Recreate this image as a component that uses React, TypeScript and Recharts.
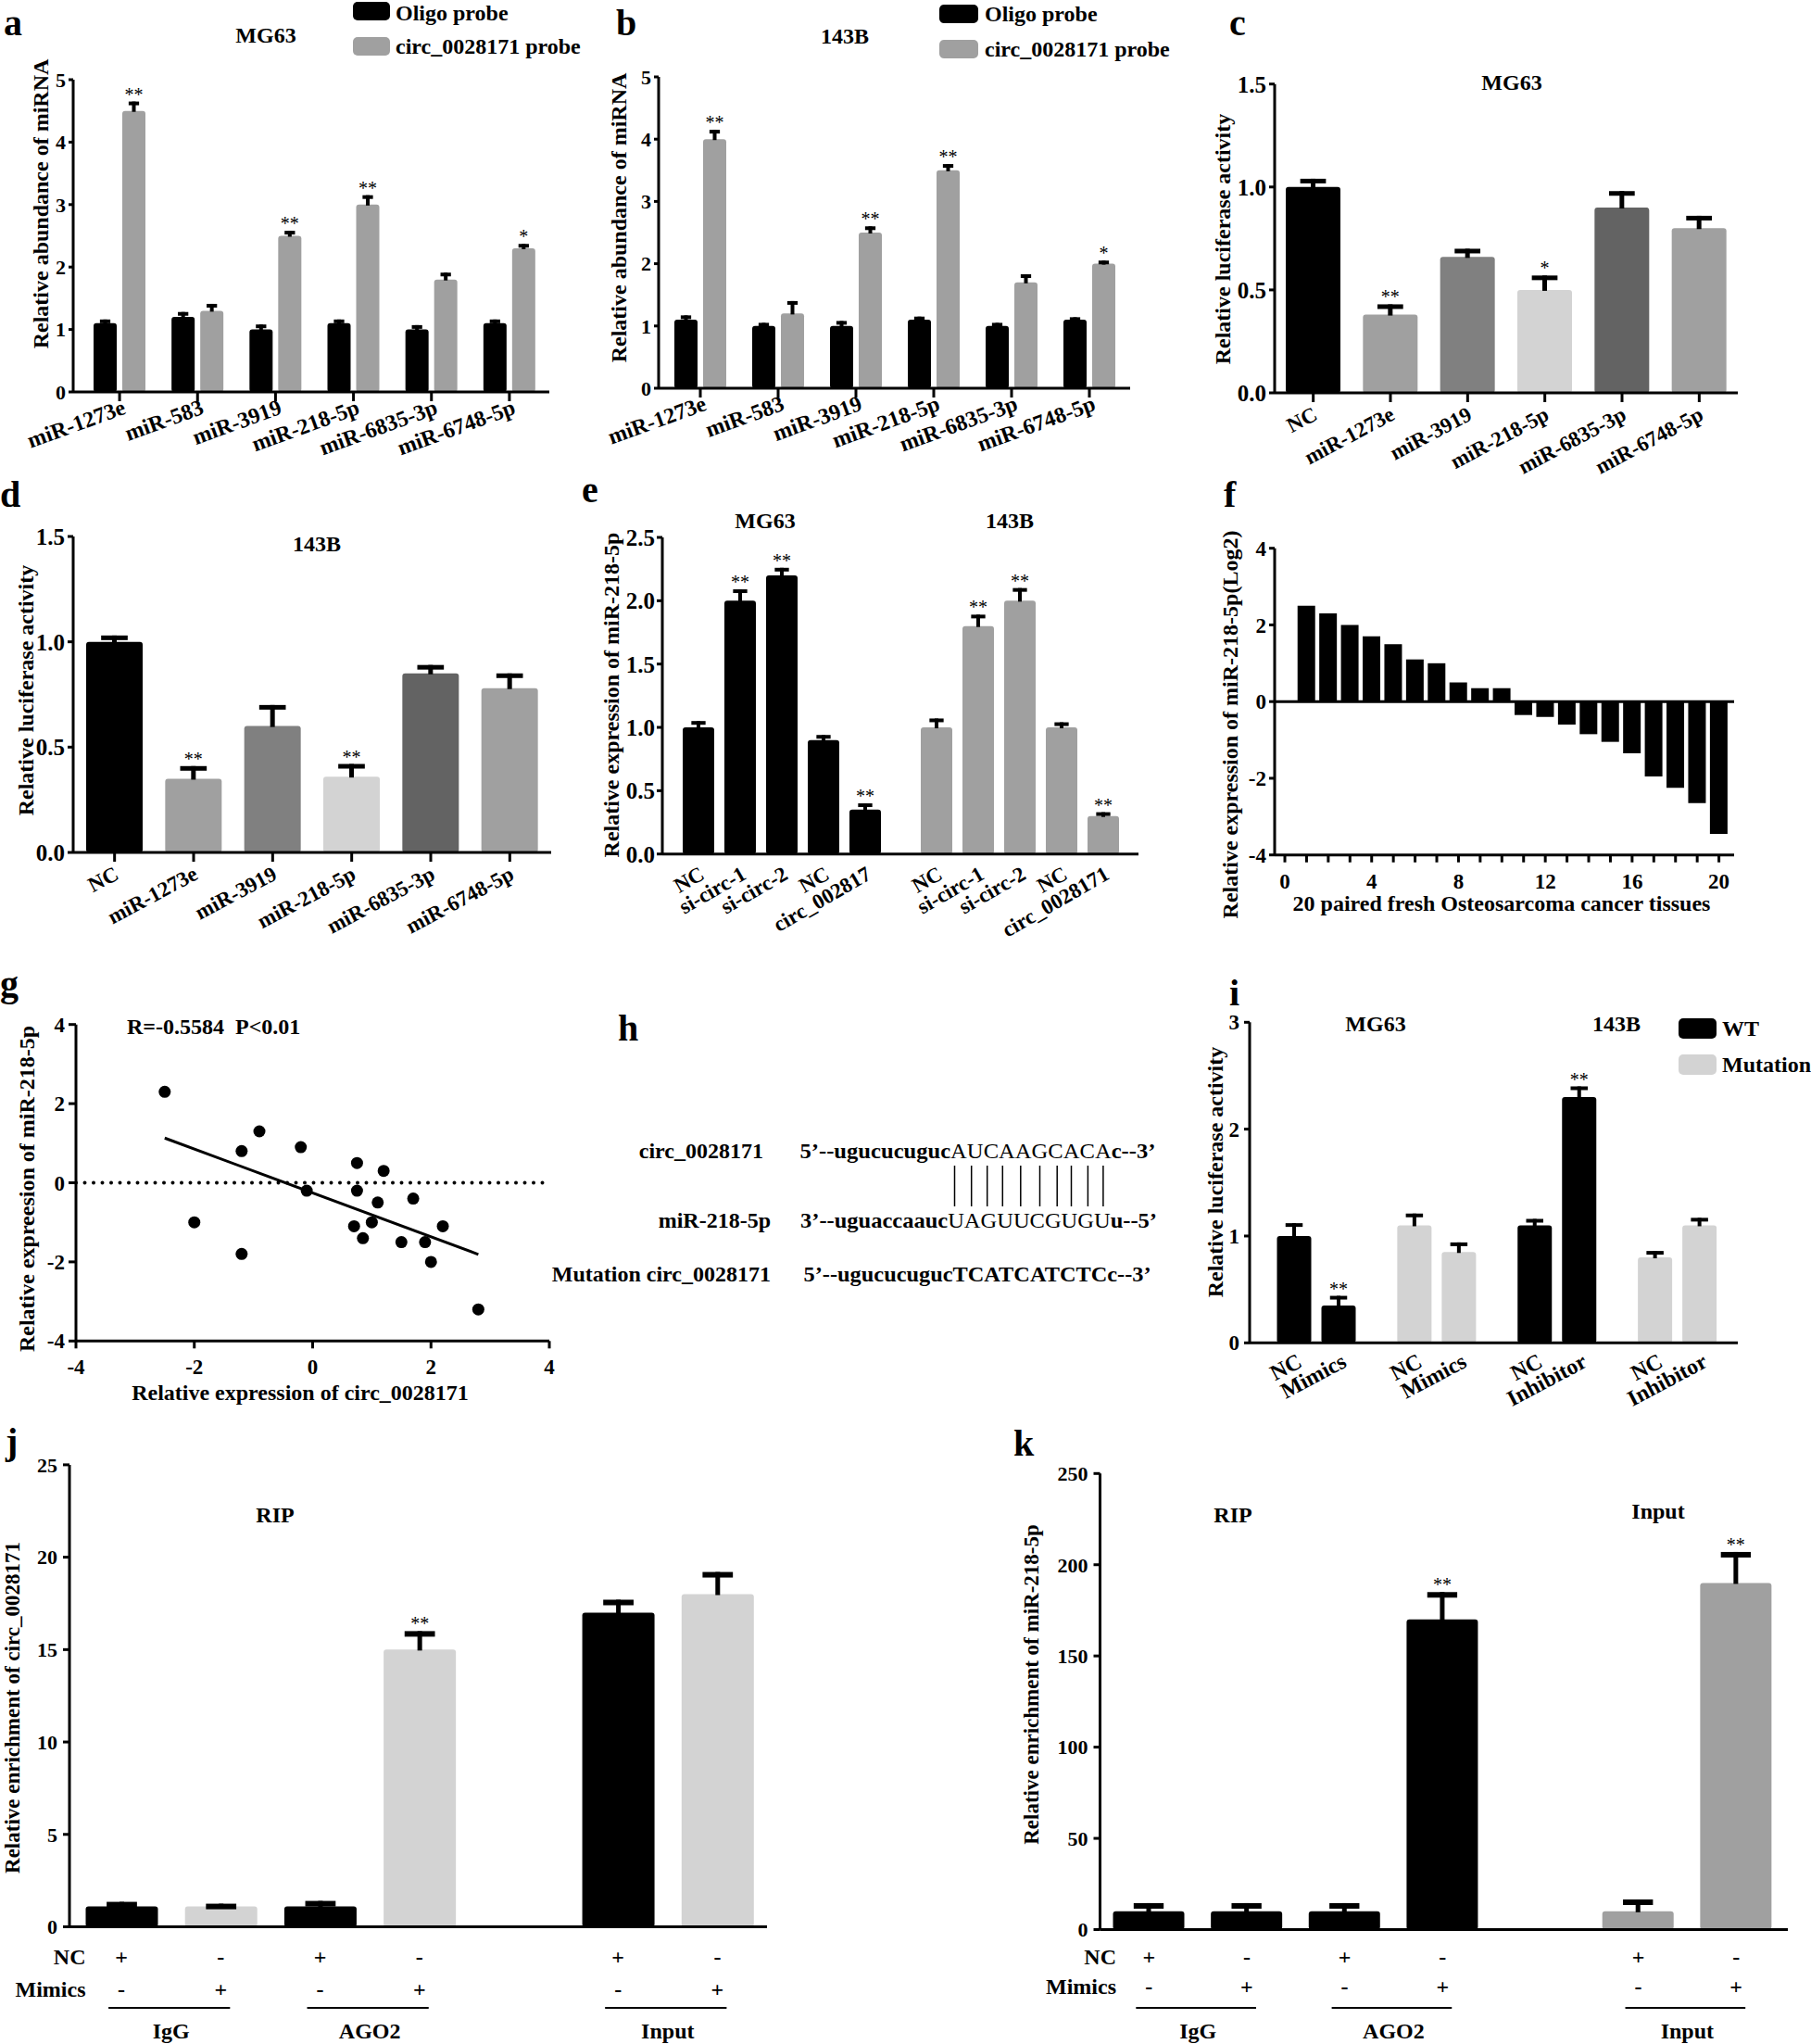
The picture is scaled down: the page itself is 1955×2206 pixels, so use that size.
import React from 'react';
import { BarChart, Bar, XAxis, YAxis, ComposedChart, Scatter, ReferenceLine } from 'recharts';

const FONT = '"Liberation Serif", "Times New Roman", Times, serif';
const BLACK = '#000000';
const GRAY = '#a0a0a0';
const LIGHT = '#d3d3d3';
const MID = '#808080';
const DARK = '#636363';

// ---------------- data ----------------
// panels a / b
const miRNAs = ['miR-1273e', 'miR-583', 'miR-3919', 'miR-218-5p', 'miR-6835-3p', 'miR-6748-5p'];
const abTicks = [0, 1, 2, 3, 4, 5];
const aOligo = [1.1, 1.2, 1.0, 1.1, 1.0, 1.1];
const aOligoErr = [0.06, 0.08, 0.08, 0.06, 0.07, 0.06];
const aCirc = [4.5, 1.3, 2.5, 3.0, 1.8, 2.3];
const aCircErr = [0.15, 0.11, 0.08, 0.15, 0.11, 0.07];
const aSig = ['**', '', '**', '**', '', '*'];
const bOligo = [1.1, 1.0, 1.0, 1.1, 1.0, 1.1];
const bOligoErr = [0.07, 0.05, 0.08, 0.05, 0.05, 0.04];
const bCirc = [4.0, 1.2, 2.5, 3.5, 1.7, 2.0];
const bCircErr = [0.15, 0.2, 0.1, 0.1, 0.13, 0.05];
const bSig = ['**', '', '**', '**', '', '*'];

// panels c / d
const lucCategories = ['NC', 'miR-1273e', 'miR-3919', 'miR-218-5p', 'miR-6835-3p', 'miR-6748-5p'];
const lucTicks = [0, 0.5, 1.0, 1.5];
const cValues = [1.0, 0.38, 0.66, 0.5, 0.9, 0.8];
const cErr = [0.04, 0.05, 0.04, 0.07, 0.08, 0.06];
const cSig = ['', '**', '', '*', '', ''];
const dValues = [1.0, 0.35, 0.6, 0.36, 0.85, 0.78];
const dErr = [0.03, 0.06, 0.1, 0.06, 0.04, 0.07];
const dSig = ['', '**', '', '**', '', ''];

// panel e
const eGroups = ['MG63', '143B'];
const eLabelsMG63 = ['NC', 'si-circ-1', 'si-circ-2', 'NC', 'circ_002817'];
const eLabels143B = ['NC', 'si-circ-1', 'si-circ-2', 'NC', 'circ_0028171'];
const eMG63 = [1.0, 2.0, 2.2, 0.9, 0.35];
const eMG63Err = [0.05, 0.09, 0.06, 0.04, 0.05];
const e143B = [1.0, 1.8, 2.0, 1.0, 0.3];
const e143BErr = [0.07, 0.09, 0.1, 0.04, 0.03];
const eSig = ['', '**', '**', '', '**'];
const eTicks = [0, 0.5, 1.0, 1.5, 2.0, 2.5];

// panel f
const fSamples = [1, 2, 3, 4, 5, 6, 7, 8, 9, 10, 11, 12, 13, 14, 15, 16, 17, 18, 19, 20];
const fValues = [2.5, 2.3, 2.0, 1.7, 1.5, 1.1, 1.0, 0.5, 0.35, 0.35, -0.35, -0.4, -0.6, -0.85, -1.05, -1.35, -1.95, -2.25, -2.65, -3.45];
const fXTicks = [0, 1, 2, 3, 4, 5, 6, 7, 8, 9, 10, 11, 12, 13, 14, 15, 16, 17, 18, 19, 20];
const fYTicks = [-4, -2, 0, 2, 4];

// panel g
const gX = [-2.5, -2.0, -1.2, -1.2, -0.9, -0.2, -0.1, 0.75, 0.75, 0.7, 0.85, 1.0, 1.1, 1.2, 1.5, 1.7, 1.9, 2.0, 2.2, 2.8];
const gY = [2.3, -1.0, 0.8, -1.8, 1.3, 0.9, -0.2, 0.5, -0.2, -1.1, -1.4, -1.0, -0.5, 0.3, -1.5, -0.4, -1.5, -2.0, -1.1, -3.2];
const gFitX = [-2.5, 2.8];
const gFitY = [1.13, -1.81];
const gTicks = [-4, -2, 0, 2, 4];

// panel i
const iGroups = ['MG63 WT', 'MG63 Mutation', '143B WT', '143B Mutation'];
const iCtrlLabels = ['NC', 'NC', 'NC', 'NC'];
const iTreatLabels = ['Mimics', 'Mimics', 'Inhibitor', 'Inhibitor'];
const iCtrl = [1.0, 1.1, 1.1, 0.8];
const iCtrlErr = [0.12, 0.11, 0.06, 0.06];
const iTreat = [0.35, 0.85, 2.3, 1.1];
const iTreatErr = [0.09, 0.09, 0.1, 0.07];
const iTreatSig = ['**', '', '**', ''];
const iTicks = [0, 1, 2, 3];

// panels j / k
const ripGroups = ['IgG', 'IgG', 'AGO2', 'AGO2', 'Input', 'Input'];
const ripNC = ['+', '-', '+', '-', '+', '-'];
const ripMimics = ['-', '+', '-', '+', '-', '+'];
const jValues = [1.1, 1.1, 1.1, 15, 17, 18];
const jErr = [0.25, 0.15, 0.3, 1.0, 0.7, 1.2];
const jSig = ['', '', '', '**', '', ''];
const jTicks = [0, 5, 10, 15, 20, 25];
const kValues = [10, 10, 10, 170, 10, 190];
const kErr = [4.5, 4.5, 4.5, 15, 6.5, 17];
const kSig = ['', '', '', '**', '', '**'];
const kTicks = [0, 50, 100, 150, 200, 250];

// ---------------- built tables ----------------
const aData = miRNAs.map((name, i) => ({ name, oligo: aOligo[i], oligoErr: aOligoErr[i], circ: aCirc[i], circErr: aCircErr[i], sig: aSig[i] }));
const bData = miRNAs.map((name, i) => ({ name, oligo: bOligo[i], oligoErr: bOligoErr[i], circ: bCirc[i], circErr: bCircErr[i], sig: bSig[i] }));
const cData = lucCategories.map((name, i) => ({ name, value: cValues[i], err: cErr[i], sig: cSig[i] }));
const dData = lucCategories.map((name, i) => ({ name, value: dValues[i], err: dErr[i], sig: dSig[i] }));
const eData = eGroups.map((name, gi) => {
  const vals = gi === 0 ? eMG63 : e143B;
  const errs = gi === 0 ? eMG63Err : e143BErr;
  const labels = gi === 0 ? eLabelsMG63 : eLabels143B;
  const row: any = { name };
  vals.forEach((v, k) => {
    row['v' + k] = v;
    row['e' + k] = errs[k];
    row['s' + k] = eSig[k];
    row['l' + k] = labels[k];
  });
  return row;
});
const fData = fSamples.map((sample, i) => ({ sample, value: fValues[i] }));
const gPoints = gX.map((x, i) => ({ x, y: gY[i] }));
const gFit = gFitX.map((x, i) => ({ x, y: gFitY[i] }));
const iData = iGroups.map((name, i) => ({
  name, ctrl: iCtrl[i], ctrlErr: iCtrlErr[i], ctrlLabel: iCtrlLabels[i],
  treat: iTreat[i], treatErr: iTreatErr[i], treatLabel: iTreatLabels[i], sig: iTreatSig[i],
}));
const buildRip = (values: number[], errs: number[], sigs: string[]) => {
  const rows: any[] = [];
  values.forEach((v, i) => {
    if (i === 4) rows.push({ name: 'spacer', value: null });
    rows.push({
      name: ripGroups[i] + ' ' + ripNC[i], value: v, err: errs[i], sig: sigs[i],
      nc: ripNC[i], mim: ripMimics[i], grp: ripGroups[i], first: i % 2 === 0, ci: i,
    });
  });
  return rows;
};
const jData = buildRip(jValues, jErr, jSig);
const kData = buildRip(kValues, kErr, kSig);

// ---------------- styles ----------------
const lucColors = [BLACK, GRAY, MID, LIGHT, DARK, GRAY];
const eColors = [BLACK, GRAY];
const iColors = [BLACK, LIGHT, BLACK, LIGHT];
const jColors = [BLACK, LIGHT, BLACK, LIGHT, BLACK, LIGHT];
const kColors = [BLACK, BLACK, BLACK, BLACK, GRAY, GRAY];
const AX = { stroke: BLACK, strokeWidth: 3 };
const yTick = (size: number) => ({ fill: BLACK, fontSize: size, fontWeight: 'bold', fontFamily: FONT });

type Box = { L: number; T: number; W: number; H: number };
type Plot = { x0: number; x1: number; y0: number; y1: number };
const margins = (b: Box, p: Plot) => ({
  left: p.x0 - b.L - 1,
  top: p.y0 - b.T,
  right: b.L + b.W - p.x1,
  bottom: b.T + b.H - p.y1 - 1,
});

const Frame = ({ box, children }: { box: Box; children: any }) => (
  <div style={{ position: 'absolute', left: box.L, top: box.T, width: box.W, height: box.H }}>{children}</div>
);

type ShapeOpts = {
  valueKey: string; errKey?: string; sigKey?: string; labelKey?: string;
  colorOf: (index: number, payload: any) => string;
  capRatio?: number; capH?: number; stemW?: number; radius?: number;
  angle?: number; ldx?: number; ldy?: number; lsize?: number; sigSize?: number;
};

const makeShape = (o: ShapeOpts) => (props: any) => {
  const { x, y, width, height, payload, index } = props;
  if (x == null || y == null || !width || payload == null) return <g />;
  const v = Number(payload[o.valueKey]);
  if (!isFinite(v) || v === 0 || !isFinite(height)) return <g />;
  const unit = height / v;
  const err = o.errKey ? Number(payload[o.errKey]) || 0 : 0;
  const eh = err * unit;
  const cx = x + width / 2;
  const capW = width * (o.capRatio ?? 0.45);
  const capH = o.capH ?? 4;
  const stemW = o.stemW ?? 4;
  const top = y - eh;
  const sig = o.sigKey ? payload[o.sigKey] : '';
  const label = o.labelKey ? payload[o.labelKey] : '';
  const base = y + height;
  return (
    <g>
      <rect x={x} y={y} width={width} height={height} rx={o.radius ?? 3} ry={o.radius ?? 3} fill={o.colorOf(index, payload)} />
      {eh > 0 && <rect x={cx - stemW / 2} y={top} width={stemW} height={eh + 1} fill={BLACK} />}
      {eh > 0 && <rect x={cx - capW / 2} y={top} width={capW} height={capH} fill={BLACK} />}
      {sig ? (
        <text x={cx} y={top - 1} textAnchor="middle" fontSize={o.sigSize ?? 20} fontFamily={FONT} fill={BLACK}>{sig}</text>
      ) : null}
      {label ? (
        <text
          transform={`translate(${cx + (o.ldx ?? 8)},${base + (o.ldy ?? 24)}) rotate(${o.angle ?? -30})`}
          textAnchor="end" fontSize={o.lsize ?? 23} fontWeight="bold" fontFamily={FONT} fill={BLACK}
        >{label}</text>
      ) : null}
    </g>
  );
};

const rotTick = (angle: number, dx: number, dy: number, size: number) => (props: any) => {
  const { x, y, payload } = props;
  return (
    <text transform={`translate(${x + dx},${y + dy}) rotate(${angle})`} textAnchor="end"
      fontSize={size} fontWeight="bold" fontFamily={FONT} fill={BLACK}>{payload.value}</text>
  );
};

// ---------------- boxes ----------------
const aBox = { L: 0, T: 0, W: 640, H: 500 };
const aPlot = { x0: 79, x1: 593, y0: 86, y1: 423 };
const bBox = { L: 640, T: 0, W: 650, H: 500 };
const bPlot = { x0: 711, x1: 1220, y0: 83, y1: 419 };
const cBox = { L: 1290, T: 0, W: 665, H: 500 };
const cPlot = { x0: 1376, x1: 1876, y0: 90.7, y1: 424 };
const dBox = { L: 0, T: 500, W: 640, H: 540 };
const dPlot = { x0: 79, x1: 595, y0: 579, y1: 920 };
const eBox = { L: 640, T: 500, W: 650, H: 540 };
const ePlot = { x0: 715, x1: 1229, y0: 580, y1: 921.7 };
const fBox = { L: 1290, T: 500, W: 665, H: 540 };
const fPlot = { x0: 1376, x1: 1872, y0: 591.7, y1: 922.7 };
const gBox = { L: 0, T: 1040, W: 640, H: 500 };
const gPlot = { x0: 82, x1: 593, y0: 1105.7, y1: 1447.3 };
const iBox = { L: 1290, T: 1040, W: 665, H: 500 };
const iPlot = { x0: 1349, x1: 1876, y0: 1103.3, y1: 1449.3 };
const jBox = { L: 0, T: 1540, W: 980, H: 666 };
const jPlot = { x0: 75, x1: 828, y0: 1580.9, y1: 2079.5 };
const kBox = { L: 980, T: 1540, W: 975, H: 666 };
const kPlot = { x0: 1187.5, x1: 1930, y0: 1590.3, y1: 2082.5 };

// ---------------- panels ----------------
function ProbePanel({ box, plot, data, pad }: { box: Box; plot: Plot; data: any[]; pad: { left: number; right: number } }) {
  return (
    <Frame box={box}>
      <BarChart width={box.W} height={box.H} data={data} margin={margins(box, plot)} barSize={25} barGap={6}>
        <XAxis dataKey="name" height={1} padding={pad} interval={0} axisLine={AX} tickLine={AX}
          tickSize={10} tickMargin={0} tick={rotTick(-20, 8, 13, 24)} />
        <YAxis type="number" domain={[0, 5]} ticks={abTicks} width={1} interval={0} axisLine={AX} tickLine={AX}
          tickSize={5} tickMargin={3} tick={yTick(22)} />
        <Bar dataKey="oligo" isAnimationActive={false}
          shape={makeShape({ valueKey: 'oligo', errKey: 'oligoErr', colorOf: () => BLACK })} />
        <Bar dataKey="circ" isAnimationActive={false}
          shape={makeShape({ valueKey: 'circ', errKey: 'circErr', sigKey: 'sig', colorOf: () => GRAY })} />
      </BarChart>
    </Frame>
  );
}

function LucPanel({ box, plot, data, barSize, pad }: { box: Box; plot: Plot; data: any[]; barSize: number; pad: { left: number; right: number } }) {
  return (
    <Frame box={box}>
      <BarChart width={box.W} height={box.H} data={data} margin={margins(box, plot)} barSize={barSize}>
        <XAxis dataKey="name" height={1} padding={pad} interval={0} axisLine={AX} tickLine={AX}
          tickSize={10} tickMargin={0} tick={rotTick(-28, 6, 18, 23)} />
        <YAxis type="number" domain={[0, 1.5]} ticks={lucTicks} width={1} interval={0} axisLine={AX} tickLine={AX}
          tickSize={6} tickMargin={3} tick={yTick(25)} tickFormatter={(v: number) => v.toFixed(1)} />
        <Bar dataKey="value" isAnimationActive={false}
          shape={makeShape({ valueKey: 'value', errKey: 'err', sigKey: 'sig', colorOf: (i) => lucColors[i], capRatio: 0.47, capH: 5, stemW: 5 })} />
      </BarChart>
    </Frame>
  );
}

function PanelE() {
  const keys = [0, 1, 2, 3, 4];
  return (
    <Frame box={eBox}>
      <BarChart width={eBox.W} height={eBox.H} data={eData} margin={margins(eBox, ePlot)} barSize={34} barGap={11}>
        <XAxis dataKey="name" height={1} interval={0} axisLine={AX} tickLine={false} tick={false} tickSize={0} />
        <YAxis type="number" domain={[0, 2.5]} ticks={eTicks} width={1} interval={0} axisLine={AX} tickLine={AX}
          tickSize={6} tickMargin={2} tick={yTick(25)} tickFormatter={(v: number) => v.toFixed(1)} />
        {keys.map((k) => (
          <Bar key={k} dataKey={'v' + k} isAnimationActive={false}
            shape={makeShape({
              valueKey: 'v' + k, errKey: 'e' + k, sigKey: 's' + k, labelKey: 'l' + k,
              colorOf: (i) => eColors[i], angle: -30, ldx: 8, ldy: 26, lsize: 23,
            })} />
        ))}
      </BarChart>
    </Frame>
  );
}

function PanelF() {
  return (
    <Frame box={fBox}>
      <BarChart width={fBox.W} height={fBox.H} data={fData} margin={margins(fBox, fPlot)} barSize={19}>
        <XAxis type="number" dataKey="sample" domain={[-0.47, 20.7]} allowDataOverflow ticks={fXTicks} interval={0}
          height={1} axisLine={AX} tickLine={AX} tickSize={8} tickMargin={12} tick={yTick(23)}
          tickFormatter={(v: number) => (v % 4 === 0 ? String(v) : '')} />
        <YAxis type="number" domain={[-4, 4]} ticks={fYTicks} width={1} interval={0} axisLine={AX} tickLine={AX}
          tickSize={6} tickMargin={3} tick={yTick(23)} />
        <ReferenceLine y={0} stroke={BLACK} strokeWidth={3} />
        <Bar dataKey="value" fill={BLACK} isAnimationActive={false} />
      </BarChart>
    </Frame>
  );
}

const dotShape = (props: any) => <circle cx={props.cx} cy={props.cy} r={6.5} fill={BLACK} />;
const noShape = () => <g />;

function PanelG() {
  return (
    <Frame box={gBox}>
      <ComposedChart width={gBox.W} height={gBox.H} margin={margins(gBox, gPlot)}>
        <XAxis type="number" dataKey="x" domain={[-4, 4]} ticks={gTicks} interval={0} allowDataOverflow
          height={1} axisLine={AX} tickLine={AX} tickSize={8} tickMargin={11} tick={yTick(23)} />
        <YAxis type="number" dataKey="y" domain={[-4, 4]} ticks={gTicks} interval={0} allowDataOverflow
          width={1} axisLine={AX} tickLine={AX} tickSize={8} tickMargin={4} tick={yTick(23)} />
        <ReferenceLine y={0} stroke={BLACK} strokeWidth={4} strokeDasharray="0 9.5" strokeLinecap="round" />
        <Scatter data={gPoints} fill={BLACK} shape={dotShape} isAnimationActive={false} />
        <Scatter data={gFit} line={{ stroke: BLACK, strokeWidth: 3 }} shape={noShape} isAnimationActive={false} />
      </ComposedChart>
    </Frame>
  );
}

function PanelI() {
  return (
    <Frame box={iBox}>
      <BarChart width={iBox.W} height={iBox.H} data={iData} margin={margins(iBox, iPlot)} barSize={37} barGap={11}>
        <XAxis dataKey="name" height={1} padding={{ left: 7.5, right: 0 }} interval={0} axisLine={AX} tickLine={false} tick={false} tickSize={0} />
        <YAxis type="number" domain={[0, 3]} ticks={iTicks} width={1} interval={0} axisLine={AX} tickLine={AX}
          tickSize={6} tickMargin={5} tick={yTick(23)} />
        <Bar dataKey="ctrl" isAnimationActive={false}
          shape={makeShape({ valueKey: 'ctrl', errKey: 'ctrlErr', labelKey: 'ctrlLabel', colorOf: (i) => iColors[i], capRatio: 0.5, angle: -28, ldx: 10, ldy: 25, lsize: 24 })} />
        <Bar dataKey="treat" isAnimationActive={false}
          shape={makeShape({ valueKey: 'treat', errKey: 'treatErr', sigKey: 'sig', labelKey: 'treatLabel', colorOf: (i) => iColors[i], capRatio: 0.5, angle: -28, ldx: 10, ldy: 25, lsize: 24 })} />
      </BarChart>
    </Frame>
  );
}

const tableTick = (rows: any[], band: number, axisLocal: number, off: { nc: number; mim: number; line: number; grp: number }) => (props: any) => {
  const { x } = props;
  const idx = props.index ?? (props.payload && props.payload.index);
  const r = rows[idx];
  if (!r || !r.nc) return <g />;
  return (
    <g>
      <text x={x} y={axisLocal + off.nc} textAnchor="middle" fontSize={24} fontWeight="bold" fontFamily={FONT} fill={BLACK}>{r.nc}</text>
      <text x={x} y={axisLocal + off.mim} textAnchor="middle" fontSize={24} fontWeight="bold" fontFamily={FONT} fill={BLACK}>{r.mim}</text>
      {r.first ? <line x1={x - 14} x2={x + band + 10} y1={axisLocal + off.line} y2={axisLocal + off.line} stroke={BLACK} strokeWidth={2} /> : null}
      {r.first ? <text x={x + band / 2} y={axisLocal + off.grp} textAnchor="middle" fontSize={24} fontWeight="bold" fontFamily={FONT} fill={BLACK}>{r.grp}</text> : null}
    </g>
  );
};

function RipPanel({ box, plot, data, domainMax, ticks, colors, pad, off, barSize }: any) {
  const band = (plot.x1 - plot.x0 - pad.left - pad.right) / data.length;
  const axisLocal = plot.y1 - box.T;
  return (
    <Frame box={box}>
      <BarChart width={box.W} height={box.H} data={data} margin={margins(box, plot)} barSize={barSize}>
        <XAxis dataKey="name" height={1} padding={pad} interval={0} axisLine={AX} tickLine={false} tickSize={0} tickMargin={0}
          tick={tableTick(data, band, axisLocal, off)} />
        <YAxis type="number" domain={[0, domainMax]} ticks={ticks} width={1} interval={0} axisLine={AX} tickLine={AX}
          tickSize={7} tickMargin={6} tick={yTick(22)} />
        <Bar dataKey="value" isAnimationActive={false}
          shape={makeShape({ valueKey: 'value', errKey: 'err', sigKey: 'sig', colorOf: (_i, p) => colors[p.ci], capRatio: 0.42, capH: 6, stemW: 5 })} />
      </BarChart>
    </Frame>
  );
}

// ---------------- overlay texts ----------------
function Overlay() {
  const B: any = { fontFamily: FONT, fontWeight: 700, fill: BLACK };
  const yTitle = (text: string, cx: number, cy: number, size = 24) => (
    <text x={cx} y={cy} transform={`rotate(-90 ${cx} ${cy})`} textAnchor="middle" dominantBaseline="central" fontSize={size} {...B}>{text}</text>
  );
  const seqLines = [1030.5, 1048.7, 1065.7, 1082.3, 1101.8, 1122.5, 1141.2, 1156.5, 1174.4, 1190.9];
  return (
    <svg width={1955} height={2206} style={{ position: 'absolute', left: 0, top: 0, pointerEvents: 'none' }}>
      {/* panel letters */}
      <text x={4} y={38} fontSize={40} {...B}>a</text>
      <text x={665} y={38} fontSize={40} {...B}>b</text>
      <text x={1327} y={38} fontSize={40} {...B}>c</text>
      <text x={0} y={547} fontSize={40} {...B}>d</text>
      <text x={628} y={542} fontSize={40} {...B}>e</text>
      <text x={1321} y={547} fontSize={40} {...B}>f</text>
      <text x={0} y={1075} fontSize={40} {...B}>g</text>
      <text x={667} y={1123} fontSize={40} {...B}>h</text>
      <text x={1327} y={1085} fontSize={40} {...B}>i</text>
      <text x={6} y={1569} fontSize={40} {...B}>j</text>
      <text x={1094} y={1571} fontSize={40} {...B}>k</text>

      {/* titles */}
      <text x={287} y={46} textAnchor="middle" fontSize={24} {...B}>MG63</text>
      <text x={912} y={47} textAnchor="middle" fontSize={24} {...B}>143B</text>
      <text x={1632} y={97} textAnchor="middle" fontSize={24} {...B}>MG63</text>
      <text x={342} y={595} textAnchor="middle" fontSize={24} {...B}>143B</text>
      <text x={826} y={570} textAnchor="middle" fontSize={24} {...B}>MG63</text>
      <text x={1090} y={570} textAnchor="middle" fontSize={24} {...B}>143B</text>
      <text x={1485} y={1113} textAnchor="middle" fontSize={24} {...B}>MG63</text>
      <text x={1745} y={1113} textAnchor="middle" fontSize={24} {...B}>143B</text>
      <text x={297} y={1643} textAnchor="middle" fontSize={24} {...B}>RIP</text>
      <text x={1331} y={1643} textAnchor="middle" fontSize={24} {...B}>RIP</text>
      <text x={1790} y={1639} textAnchor="middle" fontSize={24} {...B}>Input</text>

      {/* legends */}
      <rect x={381} y={2} width={40} height={20} rx={5} fill={BLACK} />
      <rect x={381} y={40} width={40} height={20} rx={5} fill={GRAY} />
      <text x={427} y={22} fontSize={24} {...B}>Oligo probe</text>
      <text x={427} y={58} fontSize={24} {...B}>circ_0028171 probe</text>
      <rect x={1014} y={5} width={42} height={20} rx={5} fill={BLACK} />
      <rect x={1014} y={43} width={42} height={20} rx={5} fill={GRAY} />
      <text x={1063} y={23} fontSize={24} {...B}>Oligo probe</text>
      <text x={1063} y={61} fontSize={24} {...B}>circ_0028171 probe</text>
      <rect x={1812} y={1099} width={41} height={22} rx={5} fill={BLACK} />
      <rect x={1812} y={1138} width={41} height={22} rx={5} fill={LIGHT} />
      <text x={1859} y={1118} fontSize={24} {...B}>WT</text>
      <text x={1859} y={1157} fontSize={24} {...B}>Mutation</text>

      {/* axis titles */}
      {yTitle('Relative abundance of miRNA', 44, 220)}
      {yTitle('Relative abundance of miRNA', 668, 235)}
      {yTitle('Relative luciferase activity', 1320, 258)}
      {yTitle('Relative luciferase activity', 28, 745)}
      {yTitle('Relative expression of miR-218-5p', 660, 750)}
      {yTitle('Relative expression of miR-218-5p(Log2)', 1328, 782)}
      {yTitle('Relative expreesion of miR-218-5p', 29, 1283)}
      {yTitle('Relative luciferase activity', 1312, 1265)}
      {yTitle('Relative enrichment of circ_0028171', 13, 1843, 23)}
      {yTitle('Relative enrichment of miR-218-5p', 1113, 1818, 23)}
      <text x={1621} y={983} textAnchor="middle" fontSize={24} {...B}>20 paired fresh Osteosarcoma cancer tissues</text>
      <text x={324} y={1511} textAnchor="middle" fontSize={24} {...B}>Relative expression of circ_0028171</text>
      <text x={137} y={1116} fontSize={24} style={{ whiteSpace: 'pre' }} {...B}>{'R=-0.5584  P<0.01'}</text>

      {/* panel h */}
      <text x={824} y={1250} textAnchor="end" fontSize={24} {...B}>circ_0028171</text>
      <text x={832} y={1325} textAnchor="end" fontSize={24} {...B}>miR-218-5p</text>
      <text x={832} y={1383} textAnchor="end" fontSize={24} {...B}>Mutation circ_0028171</text>
      <text x={863.5} y={1250} fontSize={24} textLength={384} lengthAdjust="spacingAndGlyphs" {...B}>
        5’--ugucucuguc<tspan fontWeight={400}>AUCAAGCACA</tspan>c--3’
      </text>
      <text x={864} y={1325} fontSize={24} textLength={385} lengthAdjust="spacingAndGlyphs" {...B}>
        3’--uguaccaauc<tspan fontWeight={400}>UAGUUCGUGU</tspan>u--5’
      </text>
      <text x={867.6} y={1383} fontSize={24} textLength={375} lengthAdjust="spacingAndGlyphs" {...B}>
        5’--ugucucugucTCATCATCTCc--3’
      </text>
      {seqLines.map((x) => (
        <line key={x} x1={x} x2={x} y1={1258} y2={1302} stroke={BLACK} strokeWidth={1.5} />
      ))}

      {/* j / k row labels */}
      <text x={92.5} y={2120} textAnchor="end" fontSize={24} {...B}>NC</text>
      <text x={92.5} y={2155} textAnchor="end" fontSize={24} {...B}>Mimics</text>
      <text x={1205} y={2120} textAnchor="end" fontSize={24} {...B}>NC</text>
      <text x={1205} y={2152} textAnchor="end" fontSize={24} {...B}>Mimics</text>
    </svg>
  );
}

export default function App() {
  return (
    <div style={{ position: 'absolute', left: 0, top: 0, width: 1955, height: 2206, background: '#ffffff', overflow: 'hidden' }}>
      <style>{'svg.recharts-surface{overflow:visible}'}</style>
      <ProbePanel box={aBox} plot={aPlot} data={aData} pad={{ left: 8, right: 1 }} />
      <ProbePanel box={bBox} plot={bPlot} data={bData} pad={{ left: 3, right: 2 }} />
      <LucPanel box={cBox} plot={cPlot} data={cData} barSize={59} pad={{ left: 0, right: 0 }} />
      <LucPanel box={dBox} plot={dPlot} data={dData} barSize={61} pad={{ left: 2, right: 2 }} />
      <PanelE />
      <PanelF />
      <PanelG />
      <PanelI />
      <RipPanel box={jBox} plot={jPlot} data={jData} domainMax={25} ticks={jTicks} colors={jColors}
        pad={{ left: 2.5, right: 0 }} barSize={78} off={{ nc: 40.5, mim: 75.5, line: 87.5, grp: 120.5 }} />
      <RipPanel box={kBox} plot={kPlot} data={kData} domainMax={250} ticks={kTicks} colors={kColors}
        pad={{ left: 0, right: 3 }} barSize={77} off={{ nc: 37.5, mim: 69.5, line: 84.5, grp: 117.5 }} />
      <Overlay />
    </div>
  );
}
